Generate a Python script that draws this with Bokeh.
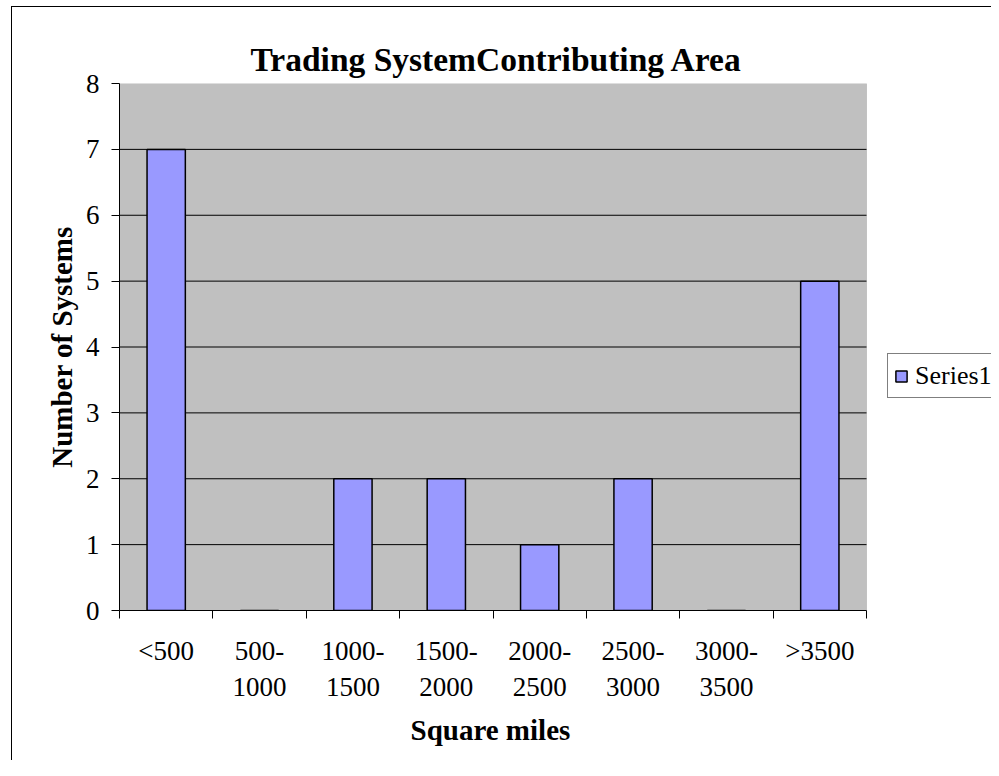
from bokeh.plotting import figure
from bokeh.models import Range1d, FixedTicker, Legend, LegendItem, BoxAnnotation, Title
from bokeh.embed import file_html
from bokeh.resources import INLINE

title = "Trading SystemContributing Area"
x_title = "Square miles"
y_title = "Number of Systems"
categories = ["<500", "500-1000", "1000-1500", "1500-2000", "2000-2500", "2500-3000", "3000-3500", ">3500"]
counts = [7, 0, 2, 2, 1, 2, 0, 5]
y_ticks = [0, 1, 2, 3, 4, 5, 6, 7, 8]
series_name = "Series1"

FONT = "Liberation Serif"
n = len(categories)
y_max = y_ticks[-1]
centers = [i + 0.5 for i in range(n)]
bounds = [i for i in range(n + 1)]
labels = {c: cat.replace("-", "-\n") for c, cat in zip(centers, categories)}

# layout (pixels)
W, H = 991, 760
LEFT, TOP, PLOT_RIGHT, BOTTOM = 119, 83, 866, 610
frame_px = W - LEFT
plot_px = PLOT_RIGHT - LEFT
x_end = n * frame_px / plot_px

p = figure(width=W, height=H, output_backend="svg", toolbar_location=None,
           x_range=Range1d(0, x_end), y_range=Range1d(0, y_max),
           min_border_left=LEFT, min_border_right=0, min_border_top=TOP,
           min_border_bottom=H - BOTTOM)
p.border_fill_color = None
p.background_fill_color = None
p.outline_line_color = None
p.styles = {
    "background-color": "white",
    "background-image": "linear-gradient(#000, #000), linear-gradient(#000, #000)",
    "background-size": "1px 100%, 100% 1px",
    "background-position": "11px 6px, 11px 6px",
    "background-repeat": "no-repeat",
}

# plot area
p.add_layout(BoxAnnotation(left=0, right=n, bottom=0, top=y_max,
                           fill_color="#C0C0C0", fill_alpha=1,
                           line_color="#808080", line_width=1, level="underlay"))

p.title.text = title
p.title.text_font = FONT
p.title.text_font_size = "33.5px"
p.title.text_font_style = "bold"
p.title.text_color = "black"
p.title.align = "left"
p.title.offset = 131
p.title.standoff = 12

# gridlines
grid_y = y_ticks[1:-1]
p.segment(x0=[0] * len(grid_y), x1=[n] * len(grid_y), y0=grid_y, y1=grid_y,
          line_color="black", line_width=1)

r = p.vbar(x=centers, top=counts, width=0.41, fill_color="#9999FF",
           line_color="black", line_width=1.5)

# x axis
xa = p.xaxis[0]
xa.bounds = (0, n)
xa.ticker = FixedTicker(ticks=centers, minor_ticks=bounds)
xa.major_label_overrides = labels
xa.major_tick_out = 0
xa.major_tick_in = 0
xa.minor_tick_out = 8
xa.minor_tick_in = 0
xa.minor_tick_line_color = "black"
xa.axis_line_color = "black"
xa.major_label_text_font = FONT
xa.major_label_text_font_size = "27px"
xa.major_label_text_color = "black"
xa.major_label_text_line_height = 1.2
xa.major_label_standoff = 17

# x axis title, centred under the plot area (not the whole frame)
xt = Title(text=x_title, align="left", offset=291, standoff=14,
           text_font=FONT, text_font_size="29px", text_font_style="bold",
           text_color="black")
p.add_layout(xt, "below")

# y axis
ya = p.yaxis[0]
ya.ticker = FixedTicker(ticks=y_ticks)
ya.major_tick_out = 8
ya.major_tick_in = 0
ya.minor_tick_out = 0
ya.minor_tick_in = 0
ya.axis_line_color = "black"
ya.major_tick_line_color = "black"
ya.major_label_text_font = FONT
ya.major_label_text_font_size = "27px"
ya.major_label_text_color = "black"
ya.major_label_standoff = 12
ya.axis_label = y_title
ya.axis_label_text_font = FONT
ya.axis_label_text_font_size = "29px"
ya.axis_label_text_font_style = "bold"
ya.axis_label_text_color = "black"
ya.axis_label_standoff = 5

p.xgrid.grid_line_color = None
p.ygrid.grid_line_color = None

legend = Legend(items=[LegendItem(label=series_name, renderers=[r])],
                location=(887 - LEFT, BOTTOM - 398))
legend.border_line_color = "black"
legend.border_line_width = 1
legend.background_fill_color = "white"
legend.background_fill_alpha = 1
legend.label_text_font = FONT
legend.label_text_font_size = "26px"
legend.label_text_color = "black"
legend.label_height = 31
legend.glyph_width = 14
legend.glyph_height = 14
legend.label_standoff = 7
legend.padding = 6
legend.margin = 0
p.add_layout(legend, "center")

open("out.html", "w").write(file_html(p, INLINE))
